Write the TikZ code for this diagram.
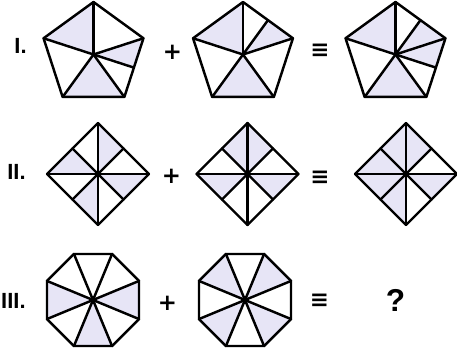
\documentclass[tikz,border=0pt]{standalone}
\usepackage{fontspec}
\setsansfont{Liberation Sans}
\newfontfamily\symfam{DejaVu Sans}
\usetikzlibrary{calc}
\definecolor{lavend}{RGB}{231,229,246}

\begin{document}
\begin{tikzpicture}[
  x=0.02cm, y=0.02cm,
  edge/.style={line width=1.4pt, line join=round, line cap=round},
  tint/.style={fill=lavend},
  tag/.style={anchor=east, inner sep=0pt,
              font=\fontsize{12.5}{12.5}\selectfont\bfseries\sffamily},
  op/.style={inner sep=0pt, font=\fontsize{13}{13}\selectfont\bfseries\symfam}
]
\useasboundingbox (0,0) rectangle (457,356);

% row I
\foreach \n/\cx in {pa/93.5, pb/243, pc/395.5} {
  \coordinate (\n c) at (\cx,301.5);
  \foreach \k in {0,...,4}
    \coordinate (\n\k) at ($(\n c)+(90+72*\k:52.5)$);
}
\coordinate (pam)  at ($(pa3)!0.5!(pa4)$);
\coordinate (pbm)  at ($(pb0)!0.5!(pb4)$);
\coordinate (pcm1) at ($(pc0)!0.5!(pc4)$);
\coordinate (pcm2) at ($(pc3)!0.5!(pc4)$);

\fill[tint] (pac) -- (pa0) -- (pa1) -- cycle;
\fill[tint] (pac) -- (pa4) -- (pam) -- cycle;
\fill[tint] (pac) -- (pa2) -- (pa3) -- cycle;
\fill[tint] (pbc) -- (pb0) -- (pb1) -- cycle;
\fill[tint] (pbc) -- (pbm) -- (pb4) -- cycle;
\fill[tint] (pbc) -- (pb2) -- (pb3) -- cycle;
\fill[tint] (pcc) -- (pc0) -- (pc1) -- cycle;
\fill[tint] (pcc) -- (pcm1) -- (pc4) -- (pcm2) -- cycle;
\fill[tint] (pcc) -- (pc2) -- (pc3) -- cycle;

\foreach \n in {pa,pb,pc} {
  \draw[edge] (\n0) -- (\n1) -- (\n2) -- (\n3) -- (\n4) -- cycle;
  \foreach \k in {0,...,4}
    \draw[edge] (\n c) -- (\n\k);
}
\draw[edge] (pac) -- (pam);
\draw[edge] (pbc) -- (pbm);
\draw[edge] (pcc) -- (pcm1);
\draw[edge] (pcc) -- (pcm2);

% row II
\foreach \n/\cx in {da/98, db/247.5, dc/406} {
  \coordinate (\n c) at (\cx,182);
  \foreach \j in {0,...,7} {
    \pgfmathsetmacro{\r}{isodd(\j) ? 36.06 : 51}
    \coordinate (\n\j) at ($(\n c)+(45*\j:\r)$);
  }
}
\foreach \k in {1,3,5,7} {
  \pgfmathtruncatemacro{\nx}{mod(\k+1,8)}
  \fill[tint] (dac) -- (da\k) -- (da\nx) -- cycle;
}
\foreach \k in {1,2,4,7} {
  \pgfmathtruncatemacro{\nx}{mod(\k+1,8)}
  \fill[tint] (dbc) -- (db\k) -- (db\nx) -- cycle;
}
\foreach \k in {1,2,3,4,5,7} {
  \pgfmathtruncatemacro{\nx}{mod(\k+1,8)}
  \fill[tint] (dcc) -- (dc\k) -- (dc\nx) -- cycle;
}
\foreach \n in {da,db,dc} {
  \draw[edge] (\n0) -- (\n2) -- (\n4) -- (\n6) -- cycle;
  \draw[edge] (\n0) -- (\n4);
  \draw[edge] (\n2) -- (\n6);
  \draw[edge] (\n1) -- (\n5);
  \draw[edge] (\n3) -- (\n7);
}

% row III
\foreach \n/\cx in {oa/93, ob/245} {
  \coordinate (\n c) at (\cx,56);
  \foreach \j in {0,...,7}
    \coordinate (\n\j) at ($(\n c)+(22.5+45*\j:49.8)$);
}
\foreach \k in {3,5,7} {
  \pgfmathtruncatemacro{\nx}{mod(\k+1,8)}
  \fill[tint] (oac) -- (oa\k) -- (oa\nx) -- cycle;
}
\foreach \k in {0,2,4,6} {
  \pgfmathtruncatemacro{\nx}{mod(\k+1,8)}
  \fill[tint] (obc) -- (ob\k) -- (ob\nx) -- cycle;
}
\foreach \n in {oa,ob} {
  \draw[edge] (\n0) -- (\n1) -- (\n2) -- (\n3) -- (\n4) -- (\n5) -- (\n6) -- (\n7) -- cycle;
  \foreach \j in {0,...,7}
    \draw[edge] (\n c) -- (\n\j);
}

\node[tag] (lab1) at (27,310) {I.};
\node[tag] (lab2) at (26,184) {II.};
\node[tag] (lab3) at (26,55) {III.};

\node[op] (plus1) at (172.5,303.5) {+};
\node[op] (plus2) at (171.5,179.5) {+};
\node[op] (plus3) at (167.5,52.5) {+};
\node[op] (eq1) at (320,305) {≡};
\node[op] (eq2) at (320,178.5) {≡};
\node[op] (eq3) at (319.5,55) {≡};
\node[inner sep=0pt, font=\fontsize{18}{18}\selectfont\bfseries\sffamily] (ask) at (395.5,56) {?};
\end{tikzpicture}
\end{document}
